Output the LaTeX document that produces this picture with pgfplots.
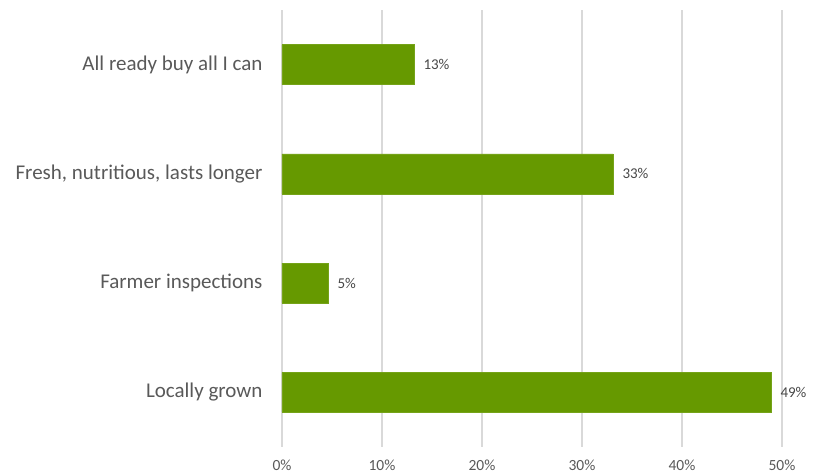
\documentclass[border=0pt]{standalone}
\usepackage{fontspec}
\setmainfont{Carlito}
\usepackage{pgfplots}
\pgfplotsset{compat=1.18}
\definecolor{barg}{HTML}{669900}
\definecolor{txt}{HTML}{595959}
\definecolor{gridc}{HTML}{D9D9D9}
\begin{document}
\begin{tikzpicture}[x=1pt,y=1pt]
\path[use as bounding box] (0,0) rectangle (822,476);
\begin{axis}[at={(282pt,29pt)}, anchor=south west, scale only axis,
  width=500pt, height=437pt,
  xbar, xmin=0, xmax=50, ymin=-0.5, ymax=3.5, bar width=40pt,
  xtick={0,10,...,50}, xticklabel={\pgfmathprintnumber{\tick}\%},
  ytick={0,1,2,3},
  yticklabels={Locally grown, Farmer inspections, {Fresh, nutritious, lasts longer}, All ready buy all I can},
  xmajorgrids, major grid style={gridc, line width=1.2pt},
  axis line style={draw=none}, major tick length=0pt,
  tick label style={text=txt},
  yticklabel style={font=\fontsize{21}{23}\selectfont, xshift=-16pt},
  xticklabel style={font=\fontsize{15.5}{17}\selectfont, yshift=-9pt},
  /pgf/number format/assume math mode=true,
  point meta=explicit symbolic,
  nodes near coords={\pgfplotspointmeta\%},
  nodes near coords style={font=\fontsize{15}{17}\selectfont, text=txt!80!black, anchor=west, xshift=6pt},
  clip=false,
]
\addplot[fill=barg, draw=barg!90!white] coordinates {
  (48.9,0) [49]
  (4.6,1) [5]
  (33.1,2) [33]
  (13.2,3) [13]
};
\end{axis}
\end{tikzpicture}
\end{document}
